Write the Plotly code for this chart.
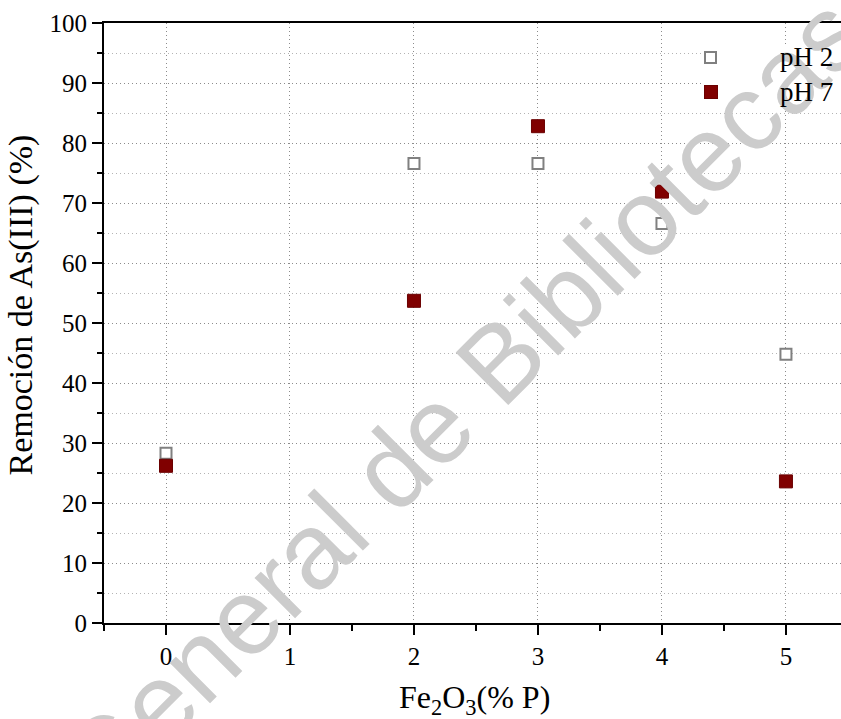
import plotly.graph_objects as go

# Fe2O3 loading (% P) and As(III) removal (%) at two pH values
fe2o3 = [0, 2, 3, 4, 5]
removal_ph2 = [28.3, 76.6, 76.6, 66.6, 44.8]
removal_ph7 = [26.2, 53.7, 82.8, 71.9, 23.6]

series_names = ["pH 2", "pH 7"]
x_ticks = [0, 1, 2, 3, 4, 5]
y_ticks = list(range(0, 101, 10))

serif = "Liberation Serif"
ph2_style = dict(fill="white", edge="#808080", edge_w=2, size=11)
ph7_style = dict(fill="#800000", edge="#6a0000", edge_w=1, size=13)

fig = go.Figure()

for name, yvals, st in [(series_names[0], removal_ph2, ph2_style),
                        (series_names[1], removal_ph7, ph7_style)]:
    fig.add_trace(go.Scatter(
        x=fe2o3, y=yvals, mode="markers", name=name, showlegend=False,
        marker=dict(symbol="square", size=st["size"], color=st["fill"],
                    line=dict(color=st["edge"], width=st["edge_w"])),
    ))

fig.update_xaxes(
    range=[-0.5, 5.444], tickvals=x_ticks,
    showline=True, linecolor="black", linewidth=2, mirror=True,
    ticks="outside", ticklen=10, tickwidth=2, tickcolor="black",
    showgrid=True, gridcolor="#8c8c8c", griddash="1px,3px", gridwidth=1,
    zeroline=False,
    tickfont=dict(family=serif, size=25, color="black"),
    minor=dict(dtick=0.5, tick0=0, ticks="outside", ticklen=6,
               tickwidth=2, tickcolor="black", showgrid=False),
)
fig.update_yaxes(
    range=[0, 100], tickvals=y_ticks,
    showline=True, linecolor="black", linewidth=2,
    ticks="outside", ticklen=10, tickwidth=2, tickcolor="black",
    showgrid=True, gridcolor="#8c8c8c", griddash="1px,3px", gridwidth=1,
    zeroline=False,
    tickfont=dict(family=serif, size=25, color="black"),
    minor=dict(dtick=5, tick0=0, ticks="outside", ticklen=5,
               tickwidth=2, tickcolor="black", showgrid=True,
               gridcolor="#b4b4b4", griddash="1px,3px", gridwidth=1),
)

# white patch behind the legend, above the grid
fig.add_shape(type="rect", xref="x", yref="y", x0=4.32, x1=5.444,
              y0=86.3, y1=96.5, layer="between",
              fillcolor="white", line=dict(width=0))

annotations = [
    dict(text="General de Bibliotecas", xref="paper", yref="paper",
         x=0.484, y=0.373, xanchor="center", yanchor="middle",
         textangle=-45, showarrow=False,
         font=dict(family="Liberation Sans", size=108, color="#cccccc")),
    dict(text="Remoción de As(III) (%)", xref="paper", yref="paper",
         x=-0.112, y=0.53, xanchor="center", yanchor="middle",
         textangle=-90, showarrow=False,
         font=dict(family=serif, size=34, color="black")),
    dict(text="Fe<sub>2</sub>O<sub>3</sub>(% P)", xref="paper", yref="paper",
         x=0.503, y=-0.127, xanchor="center", yanchor="middle",
         showarrow=False,
         font=dict(family=serif, size=32, color="black")),
]

# legend: square key plus label for each series
legend_rows = [0.943, 0.885]
for name, row, st in zip(series_names, legend_rows, [ph2_style, ph7_style]):
    inner = st["size"] - st["edge_w"] if st["edge_w"] > 1 else st["size"] - 1
    annotations.append(dict(
        text="", xref="paper", yref="paper", x=0.8236, y=row,
        xanchor="center", yanchor="middle", showarrow=False,
        width=inner, height=inner, borderpad=0,
        bgcolor=st["fill"], bordercolor=st["edge"], borderwidth=st["edge_w"]))
    annotations.append(dict(
        text=name, xref="paper", yref="paper", x=0.9145, y=row,
        xanchor="left", yanchor="middle", showarrow=False,
        font=dict(family=serif, size=27, color="black")))

fig.update_layout(
    width=841, height=719,
    margin=dict(l=104, r=0, t=23, b=96),
    plot_bgcolor="white", paper_bgcolor="white",
    font=dict(family=serif, size=24, color="black"),
    showlegend=False,
    annotations=annotations,
)

fig.write_html("out.html")
